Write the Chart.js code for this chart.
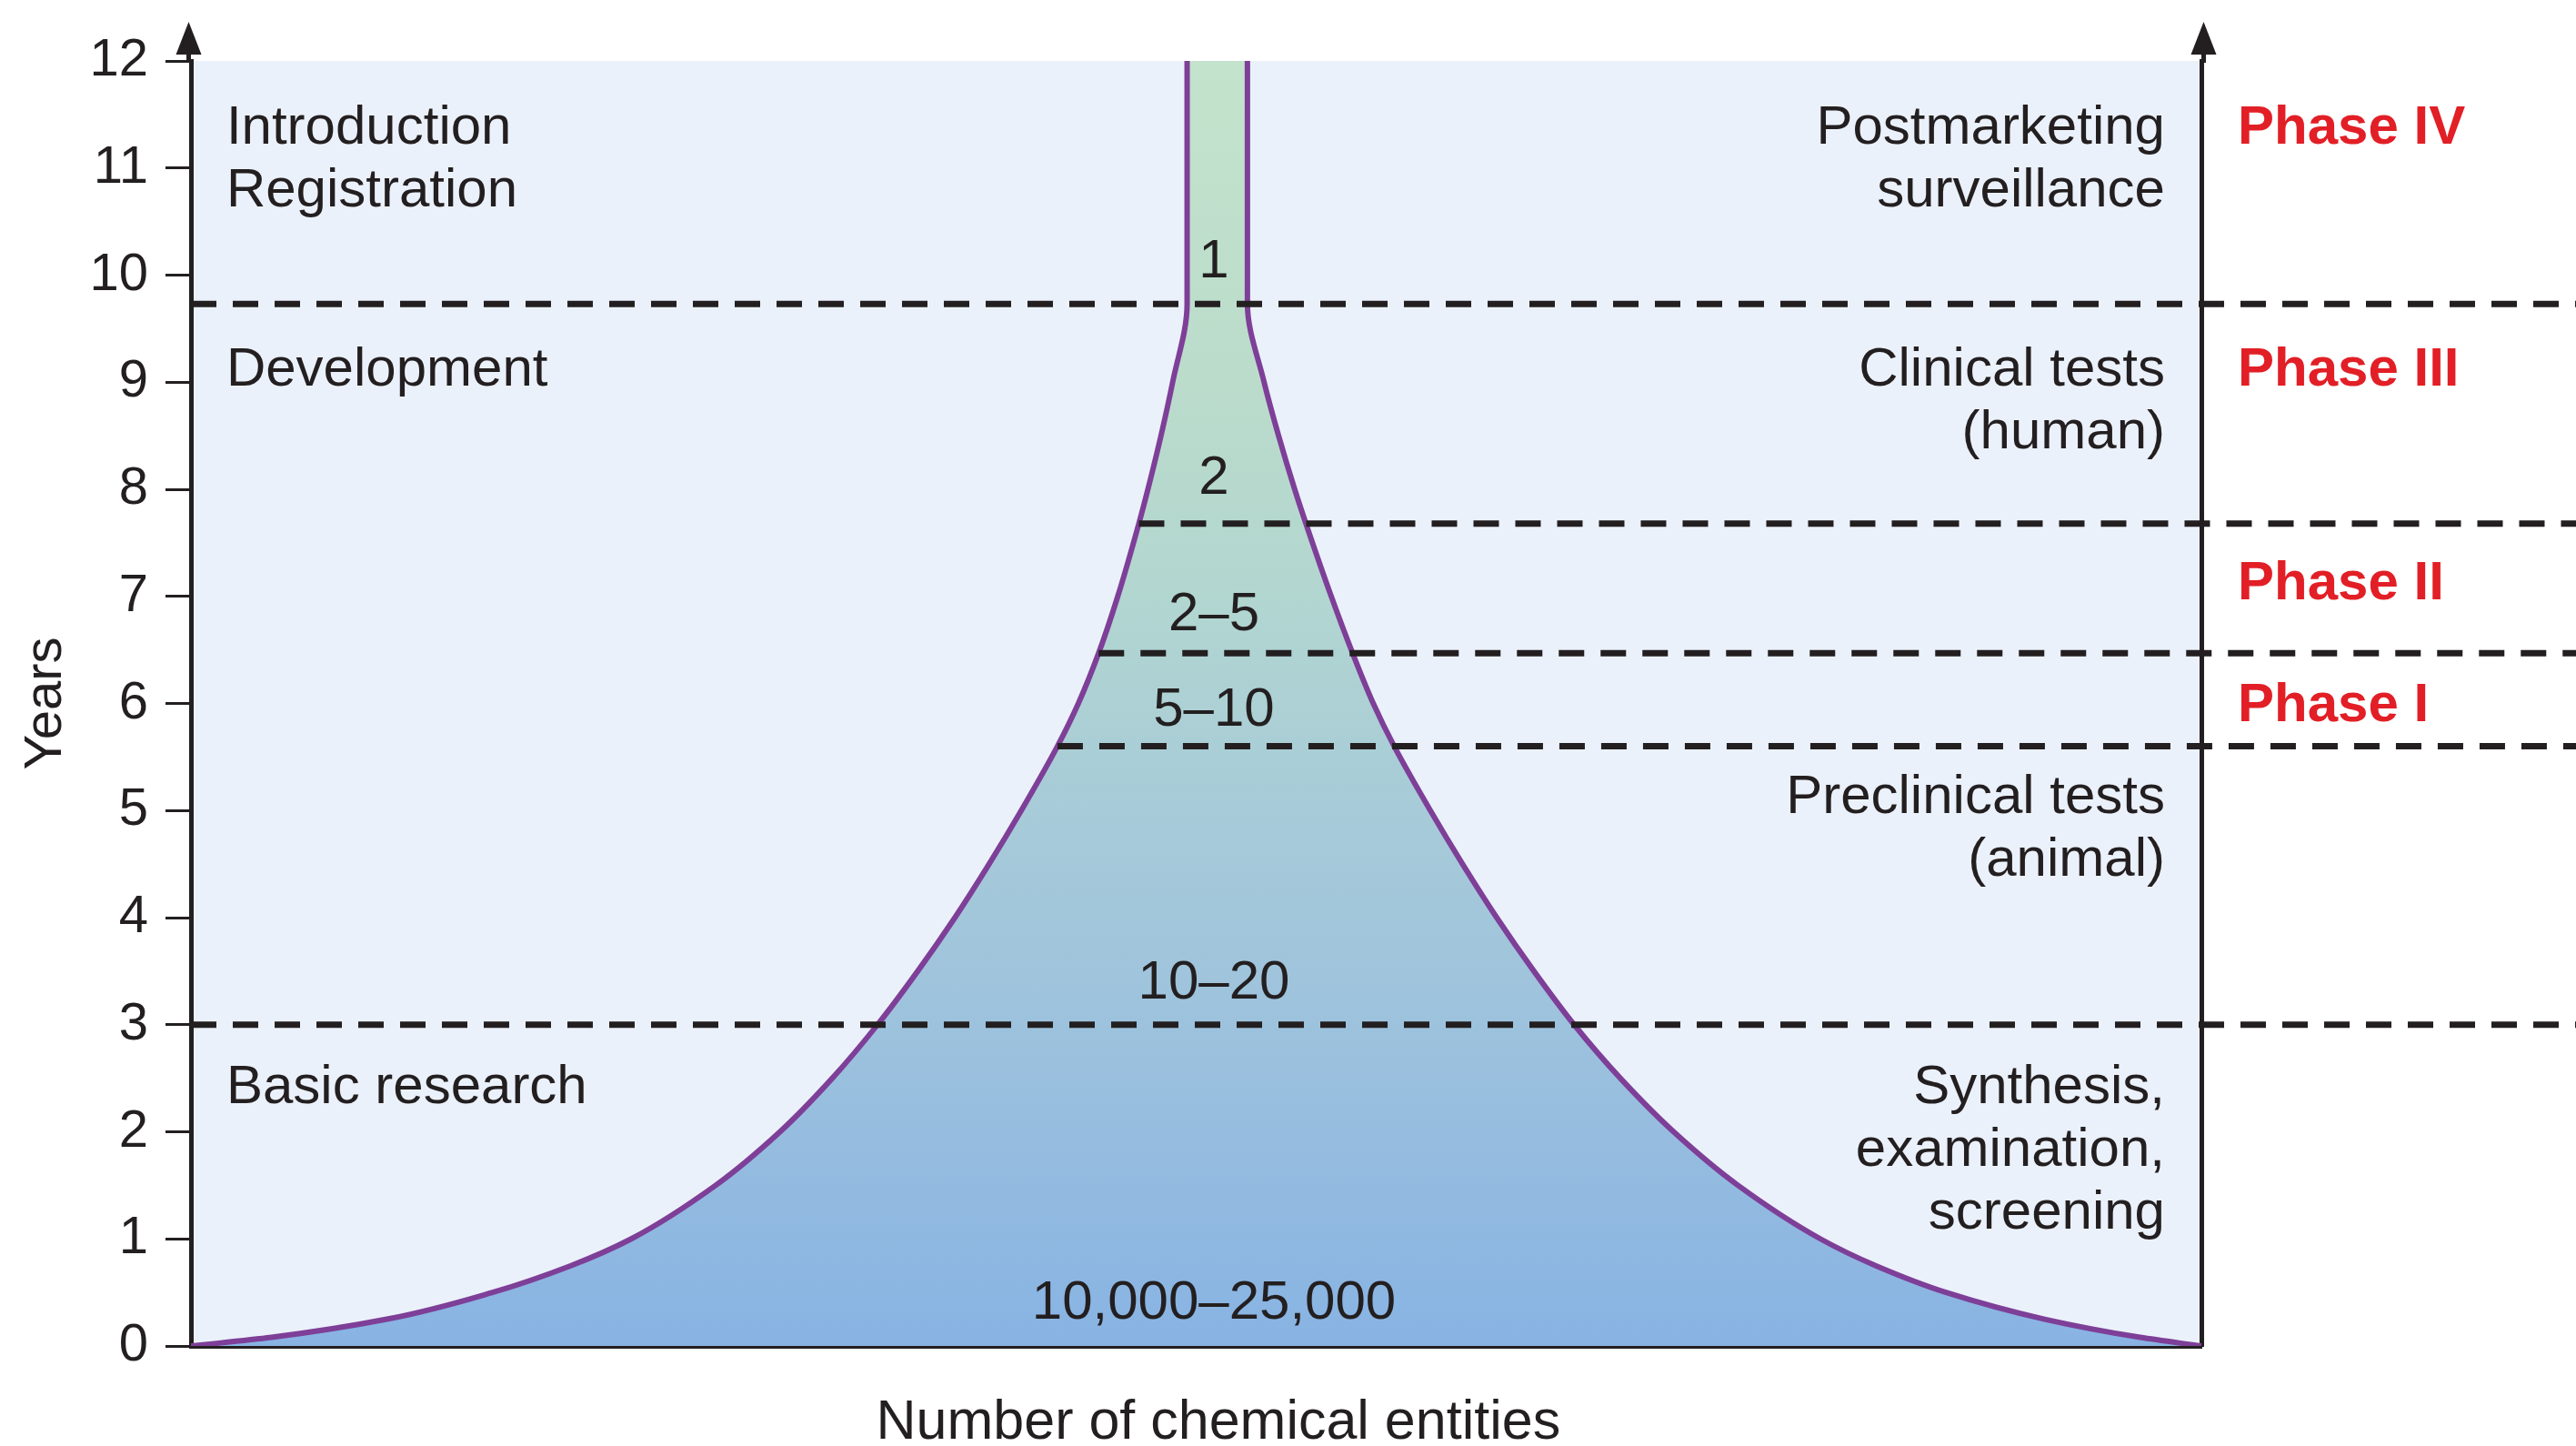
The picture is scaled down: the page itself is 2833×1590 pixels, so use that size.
<!DOCTYPE html>
<html>
<head>
<meta charset="utf-8">
<script src="https://cdn.jsdelivr.net/npm/chart.js@4.4.1/dist/chart.umd.min.js"></script>
<style>
html,body{margin:0;padding:0;background:#ffffff;overflow:hidden}
#wrap{width:2833px;height:1590px;position:relative}
</style>
</head>
<body>
<div id="wrap"><canvas id="c"></canvas></div>
<script>
// ---------------- data ----------------
const yearTicks = [0,1,2,3,4,5,6,7,8,9,10,11,12];
const funnelYears = [0, 0.08, 0.25, 0.5, 0.75, 1, 1.5, 2, 2.5, 3, 3.5, 4, 4.5, 5, 5.6, 6, 6.47, 7, 7.68, 8, 8.5, 9, 9.73, 12];
const funnelLeft  = [0, 4.0, 9.75, 15.0, 18.9, 21.9, 26.1, 29.3, 31.9, 34.15, 36.15, 38.0, 39.7, 41.3, 43.1, 44.14, 45.15, 46.1, 47.15, 47.6, 48.25, 48.83, 49.55, 49.55];
const funnelRight = [100, 96.96, 92.2, 87.3, 83.8, 81.05, 76.95, 73.75, 71.1, 68.8, 66.8, 64.95, 63.25, 61.65, 59.85, 58.81, 57.78, 56.72, 55.46, 54.9, 54.1, 53.38, 52.55, 52.55];
const boundaryYears = [9.73, 7.68, 6.47, 5.6, 3.0];
const boundaryStart = [0, 47.15, 45.15, 43.1, 0];
const countLabels = ['1', '2', '2–5', '5–10', '10–20', '10,000–25,000'];
const countYears  = [10.15, 8.13, 6.86, 5.97, 3.42, 0.43];
const phaseLabels = ['Phase IV', 'Phase III', 'Phase II', 'Phase I'];
const phaseYears  = [11.40, 9.14, 7.15, 6.01];
const leftStages  = [['Introduction', 'Registration'], ['Development'], ['Basic research']];
const leftStageYears = [11.40, 9.14, 2.44];
const rightStages = [['Postmarketing', 'surveillance'], ['Clinical tests', '(human)'], ['Preclinical tests', '(animal)'], ['Synthesis,', 'examination,', 'screening']];
const rightStageYears = [11.40, 9.14, 5.15, 2.44];
const xTitle = 'Number of chemical entities';
const yTitle = 'Years';

// ---------------- styling ----------------
const INK = '#231f20';
const FONT = '"Liberation Sans", Arial, Helvetica, sans-serif';
const LINE_GAP = 69;   // px between text lines
const TEXT_SHIFT = 4;  // baseline correction, px

const funnelGradient = (context) => {
  const chart = context.chart;
  const {ctx, chartArea, scales} = chart;
  if (!chartArea || !scales.y) return 'rgba(0,0,0,0)';
  const y0 = scales.y.getPixelForValue(0);
  const y12 = scales.y.getPixelForValue(12);
  const g = ctx.createLinearGradient(0, y0, 0, y12);
  g.addColorStop(0, '#88b3e3');
  g.addColorStop(3/12, '#9dc2dd');
  g.addColorStop(5/12, '#a7cbd8');
  g.addColorStop(7/12, '#b2d6d0');
  g.addColorStop(9/12, '#bbdccb');
  g.addColorStop(1, '#c3e3cc');
  return g;
};

const boundaryDatasets = boundaryYears.map((yr, i) => ({
  label: 'boundary' + i,
  data: [{x: boundaryStart[i], y: yr}, {x: 125, y: yr}],
  borderColor: INK,
  borderWidth: 7,
  borderDash: [28, 18],
  pointRadius: 0,
  fill: false,
  clip: false,
  order: 0
}));

const edgeStyle = {
  indexAxis: 'y',
  borderColor: '#7e3f98',
  borderWidth: 6,
  pointRadius: 0,
  cubicInterpolationMode: 'monotone',
  order: 1
};
const leftEdge = Object.assign({
  label: 'left',
  data: funnelYears.map((yr, i) => ({x: funnelLeft[i], y: yr})),
  fill: false
}, edgeStyle);
const rightEdge = Object.assign({
  label: 'right',
  data: funnelYears.map((yr, i) => ({x: funnelRight[i], y: yr})),
  backgroundColor: funnelGradient,
  fill: '-1'
}, edgeStyle);

const decor = {
  id: 'decor',
  beforeDraw(chart) {
    const {ctx, chartArea: a} = chart;
    ctx.save();
    ctx.fillStyle = '#ebf1fa';
    ctx.fillRect(a.left, a.top, a.right - a.left, a.bottom - a.top);
    ctx.restore();
  },
  afterDraw(chart) {
    const {ctx, chartArea: a, scales: {x, y}} = chart;
    const top = y.getPixelForValue(12);
    ctx.save();
    // axis extensions and arrowheads
    [a.left - 2.5, a.right + 2.5].forEach(px => {
      ctx.strokeStyle = INK;
      ctx.lineWidth = 5;
      ctx.beginPath();
      ctx.moveTo(px, top + 2);
      ctx.lineTo(px, top - 20);
      ctx.stroke();
      ctx.fillStyle = INK;
      ctx.beginPath();
      ctx.moveTo(px, top - 43);
      ctx.lineTo(px - 14, top - 7);
      ctx.lineTo(px + 14, top - 7);
      ctx.closePath();
      ctx.fill();
    });
    ctx.textBaseline = 'middle';
    ctx.font = '60px ' + FONT;
    ctx.fillStyle = INK;
    // left stage labels
    ctx.textAlign = 'left';
    leftStages.forEach((lines, i) => {
      const py = y.getPixelForValue(leftStageYears[i]) + TEXT_SHIFT;
      lines.forEach((t, k) => ctx.fillText(t, x.getPixelForValue(1.76), py + k * LINE_GAP));
    });
    // right stage labels
    ctx.textAlign = 'right';
    rightStages.forEach((lines, i) => {
      const py = y.getPixelForValue(rightStageYears[i]) + TEXT_SHIFT;
      lines.forEach((t, k) => ctx.fillText(t, x.getPixelForValue(98.19), py + k * LINE_GAP));
    });
    // counts inside the funnel
    ctx.textAlign = 'center';
    countLabels.forEach((t, i) => ctx.fillText(t, x.getPixelForValue(50.88), y.getPixelForValue(countYears[i]) + TEXT_SHIFT));
    // x axis title, centred under the funnel
    ctx.font = '61px ' + FONT;
    ctx.fillText(xTitle, x.getPixelForValue(51.1), a.bottom + 85);
    // phases
    ctx.textAlign = 'left';
    ctx.font = 'bold 60px ' + FONT;
    ctx.fillStyle = '#e21f26';
    phaseLabels.forEach((t, i) => ctx.fillText(t, x.getPixelForValue(101.81), y.getPixelForValue(phaseYears[i]) + TEXT_SHIFT));
    ctx.restore();
  }
};

new Chart(document.getElementById('c'), {
  type: 'line',
  data: { datasets: [...boundaryDatasets, leftEdge, rightEdge] },
  options: {
    responsive: true,
    maintainAspectRatio: false,
    devicePixelRatio: 1,
    animation: false,
    events: [],
    layout: { padding: { left: 0, top: 67, right: 412, bottom: 0 } },
    plugins: { legend: { display: false }, tooltip: { enabled: false }, title: { display: false } },
    scales: {
      x: {
        type: 'linear',
        min: 0, max: 100,
        ticks: { display: false },
        grid: { display: true, drawOnChartArea: false, drawTicks: false },
        border: { display: true, color: INK, width: 5 },
        title: { display: false, text: xTitle },
        afterFit(s) { s.height = 110; }
      },
      y: {
        type: 'linear',
        position: 'left',
        min: 0, max: 12,
        afterBuildTicks(s) { s.ticks = yearTicks.map(v => ({ value: v })); },
        ticks: { color: INK, font: { family: FONT, size: 58 }, padding: 19, autoSkip: false },
        grid: { display: true, drawOnChartArea: false, drawTicks: true, tickLength: 28, tickWidth: 3, color: INK },
        border: { display: true, color: INK, width: 5 },
        title: { display: true, text: yTitle, color: INK,
                 font: { family: FONT, size: 58, lineHeight: 1.2 }, padding: { top: 16, bottom: 0 } },
        afterFit(s) { s.width = 210; }
      },
      y2: {
        type: 'linear',
        position: 'right',
        min: 0, max: 12,
        ticks: { display: false },
        grid: { display: true, drawOnChartArea: false, drawTicks: false },
        border: { display: true, color: INK, width: 5 },
        afterFit(s) { s.width = 0; }
      }
    }
  },
  plugins: [decor]
});
</script>
</body>
</html>
